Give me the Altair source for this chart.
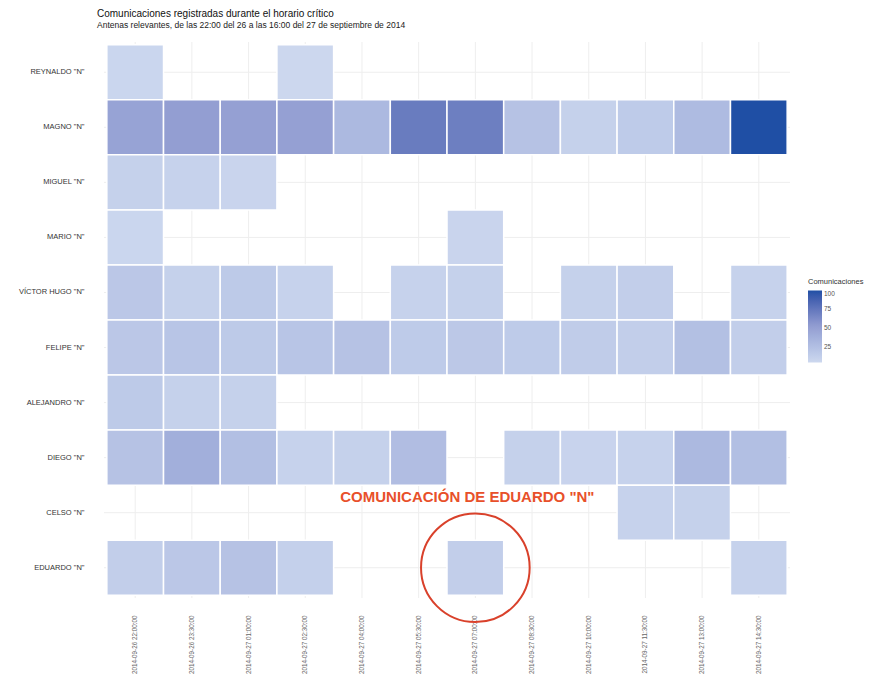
import altair as alt
import pandas as pd

personas = ["REYNALDO \"N\"", "MAGNO \"N\"", "MIGUEL \"N\"", "MARIO \"N\"", "VÍCTOR HUGO \"N\"",
            "FELIPE \"N\"", "ALEJANDRO \"N\"", "DIEGO \"N\"", "CELSO \"N\"", "EDUARDO \"N\""]
horas = ["2014-09-26 22:00:00", "2014-09-26 23:30:00", "2014-09-27 01:00:00", "2014-09-27 02:30:00",
         "2014-09-27 04:00:00", "2014-09-27 05:30:00", "2014-09-27 07:00:00", "2014-09-27 08:30:00",
         "2014-09-27 10:00:00", "2014-09-27 11:30:00", "2014-09-27 13:00:00", "2014-09-27 14:30:00"]

# values per person, None = no communication in that interval
reynaldo  = [6, None, None, 5, None, None, None, None, None, None, None, None]
magno     = [48, 52, 50, 50, 30, 72, 70, 22, 10, 15, 28, 100]
miguel    = [10, 9, 7, None, None, None, None, None, None, None, None, None]
mario     = [6, None, None, None, None, None, 7, None, None, None, None, None]
victor    = [18, 10, 16, 9, None, 9, 10, None, 10, 12, None, 9]
felipe    = [18, 20, 16, 20, 22, 15, 17, 15, 14, 12, 24, 12]
alejandro = [16, 10, 10, None, None, None, None, None, None, None, None, None]
diego     = [22, 38, 25, 9, 10, 26, None, 10, 8, 9, 30, 25]
celso     = [None, None, None, None, None, None, None, None, None, 9, 10, None]
eduardo   = [12, 18, 22, 11, None, None, 12, None, None, None, None, 9]

series = [reynaldo, magno, miguel, mario, victor, felipe, alejandro, diego, celso, eduardo]

rows = []
for p, vals in zip(personas, series):
    for h, v in zip(horas, vals):
        if v is not None:
            rows.append({"persona": p, "hora": h, "n": v})
df = pd.DataFrame(rows)

anot_persona = ["EDUARDO \"N\""]
anot_hora = ["2014-09-27 07:00:00"]
anot_texto_persona = ["CELSO \"N\""]
anot_texto = ["COMUNICACIÓN DE EDUARDO \"N\""]

ann = pd.DataFrame({"persona": anot_persona, "hora": anot_hora})
ann_t = pd.DataFrame({"persona": anot_texto_persona, "hora": anot_hora, "t": anot_texto})

xs = alt.Scale(domain=horas, paddingInner=0, paddingOuter=0.05)
ys = alt.Scale(domain=personas, paddingInner=0, paddingOuter=0.05)

x_axis = alt.Axis(labelAngle=-90, labelFontSize=6.3, labelColor="#666666",
                  grid=False, ticks=False, domain=False, labelPadding=17)
y_axis = alt.Axis(labelFontSize=7.5, labelColor="#333333", grid=False,
                  ticks=False, domain=False, labelPadding=20)

def xe(**kw):
    return alt.X("hora:N", scale=xs, title=None, axis=x_axis, **kw)

def ye(**kw):
    return alt.Y("persona:N", scale=ys, title=None, axis=y_axis, **kw)

grid_x = alt.Chart(pd.DataFrame({"hora": horas})).mark_rule(
    color="#eeeeee", strokeWidth=1).encode(x=xe(bandPosition=0.5))
grid_y = alt.Chart(pd.DataFrame({"persona": personas})).mark_rule(
    color="#eeeeee", strokeWidth=1).encode(y=ye(bandPosition=0.5))

tiles = alt.Chart(df).mark_rect(stroke="white", strokeWidth=1.5, opacity=1).encode(
    x=xe(), y=ye(),
    color=alt.Color("n:Q", title="Comunicaciones",
                    scale=alt.Scale(domain=[4, 100], range=["#cdd8ef", "#939ed2", "#1f4fa5"]),
                    legend=alt.Legend(orient="none", legendX=704, legendY=236,
                                      gradientLength=72, gradientThickness=14,
                                      titleFontSize=7.5, titleFontWeight="normal",
                                      titleColor="#333333", labelFontSize=6.5,
                                      labelColor="#555555", values=[25, 50, 75, 100],
                                      direction="vertical"))
)

circle = alt.Chart(ann).mark_point(shape="circle", filled=False, size=11800,
                                   stroke="#d9412b", strokeWidth=2, opacity=1).encode(
    x=xe(), y=ye()
)

label = alt.Chart(ann_t).mark_text(color="#e8502a", fontSize=15, fontWeight="bold",
                                   dx=-8, dy=-16).encode(
    x=xe(), y=ye(), text="t:N"
)

chart = (grid_x + grid_y + tiles + circle + label).properties(
    width=686, height=556,
    view=alt.ViewBackground(stroke="transparent", strokeWidth=0),
    autosize=alt.AutoSizeParams(type="none"),
    padding={"left": 96, "top": 34, "right": 80, "bottom": 88},
    title=alt.TitleParams("Comunicaciones registradas durante el horario crítico",
                          subtitle="Antenas relevantes, de las 22:00 del 26 a las 16:00 del 27 de septiembre de 2014",
                          anchor="start", frame="group", dx=-7, offset=12,
                          fontSize=10, fontWeight="normal", color="#111111",
                          subtitleFontSize=8.5, subtitleColor="#222222", subtitlePadding=2)
).configure_view(strokeWidth=0, strokeOpacity=0).configure(font="Liberation Sans")

chart.save("out.html", embed_options={"renderer": "svg", "actions": False})
